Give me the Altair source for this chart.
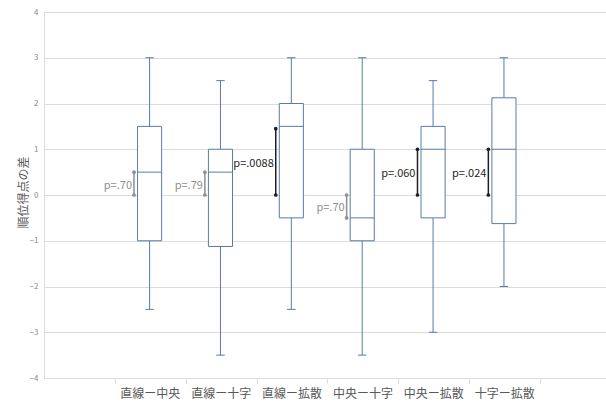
import altair as alt
import pandas as pd

# Pairwise comparisons and their box-plot summaries
pairs = ["直線ー中央", "直線ー十字", "直線ー拡散", "中央ー十字", "中央ー拡散", "十字ー拡散"]
mins = [-2.5, -3.5, -2.5, -3.5, -3.0, -2.0]
q1s = [-1.0, -1.125, -0.5, -1.0, -0.5, -0.625]
medians = [0.5, 0.5, 1.5, -0.5, 1.0, 1.0]
q3s = [1.5, 1.0, 2.0, 1.0, 1.5, 2.125]
maxs = [3.0, 2.5, 3.0, 3.0, 2.5, 3.0]

# Mean difference bars with their p-values
seg_lo = [0.0, 0.0, 0.0, -0.5, 0.0, 0.0]
seg_hi = [0.5, 0.5, 1.45, 0.0, 1.0, 1.0]
p_labels = ["p=.70", "p=.79", "p=.0088", "p=.70", "p=.060", "p=.024"]
significant = [False, False, True, False, True, True]

BOX = "#5a7aab"
GRID = "#dcdcdc"
FONT = "Noto Sans CJK JP"

df = pd.DataFrame({
    "pair": pairs,
    "slot": list(range(1, len(pairs) + 1)),
    "min": mins, "q1": q1s, "median": medians, "q3": q3s, "max": maxs,
    "lo": seg_lo, "hi": seg_hi, "p": p_labels, "sig": significant,
})

base = alt.Chart(df).transform_calculate(
    c="datum.slot + 0.49",
    bl="datum.slot + 0.49 - 0.17",
    br="datum.slot + 0.49 + 0.17",
    capl="datum.slot + 0.49 - 0.06",
    capr="datum.slot + 0.49 + 0.06",
    sx="datum.slot + 0.49 - 0.22",
    mid="(datum.lo + datum.hi) / 2",
    col="datum.sig ? '#1f1f1f' : '#8f8f8f'",
)

label_expr = "{" + ", ".join(f"'{i + 1}': '{p}'" for i, p in enumerate(pairs)) + "}[datum.value] || ''"

xscale = alt.Scale(domain=[0, 7.93], nice=False, zero=False)
yscale = alt.Scale(domain=[-4, 4], nice=False)

x_axis = alt.Axis(
    values=[1, 2, 3, 4, 5, 6, 7], labelExpr=label_expr, labelOffset=35,
    grid=False, domainColor=GRID, tickColor=GRID, tickSize=5,
    labelFont=FONT, labelFontSize=12, labelColor="#595959", labelPadding=5,
    title=None, labelAngle=0,
)
y_axis = alt.Axis(
    values=[-4, -3, -2, -1, 0, 1, 2, 3, 4], format="d",
    gridColor=GRID, domainColor=GRID, ticks=False,
    labelFont=FONT, labelFontSize=8, labelColor="#8a8a8a", labelPadding=6,
    title="順位得点の差", titleFont=FONT, titleFontSize=12, titleColor="#595959",
    titleFontWeight="normal", titleX=-14, titleY=180,
)

X = lambda f: alt.X(f, type="quantitative", scale=xscale)
Y = lambda f: alt.Y(f, type="quantitative", scale=yscale)

axes = base.mark_rule(opacity=0).encode(
    x=alt.X("c:Q", scale=xscale, axis=x_axis),
    y=alt.Y("median:Q", scale=yscale, axis=y_axis),
)

whisker_up = base.mark_rule(color=BOX, strokeWidth=1).encode(x=X("c"), y=Y("q3"), y2="max:Q")
whisker_dn = base.mark_rule(color=BOX, strokeWidth=1).encode(x=X("c"), y=Y("min"), y2="q1:Q")
cap_top = base.mark_rule(color=BOX, strokeWidth=1).encode(x=X("capl"), x2="capr:Q", y=Y("max"))
cap_bot = base.mark_rule(color=BOX, strokeWidth=1).encode(x=X("capl"), x2="capr:Q", y=Y("min"))
box = base.mark_rect(fill="white", stroke=BOX, strokeWidth=1).encode(
    x=X("bl"), x2="br:Q", y=Y("q1"), y2="q3:Q")
med = base.mark_rule(color=BOX, strokeWidth=1).encode(x=X("bl"), x2="br:Q", y=Y("median"))

seg = base.mark_rule(strokeWidth=1.5).encode(
    x=X("sx"), y=Y("lo"), y2="hi:Q", color=alt.Color("col:N", scale=None))
dot_lo = base.mark_point(filled=True, size=14, opacity=1).encode(
    x=X("sx"), y=Y("lo"), color=alt.Color("col:N", scale=None))
dot_hi = base.mark_point(filled=True, size=14, opacity=1).encode(
    x=X("sx"), y=Y("hi"), color=alt.Color("col:N", scale=None))
ptext = base.mark_text(align="right", baseline="middle", dx=-2, dy=2, font=FONT, fontSize=11).encode(
    x=X("sx"), y=Y("mid"), text="p:N", color=alt.Color("col:N", scale=None))

chart = alt.layer(
    axes, whisker_up, whisker_dn, cap_top, cap_bot, box, med, seg, dot_lo, dot_hi, ptext
).properties(
    width=562, height=366,
    autosize=alt.AutoSizeParams(type="none"),
    padding={"left": 44, "top": 12, "right": 0, "bottom": 25},
).configure_view(stroke=None).configure(background="white")

chart.save("out.html", embed_options={"renderer": "svg", "actions": False})
